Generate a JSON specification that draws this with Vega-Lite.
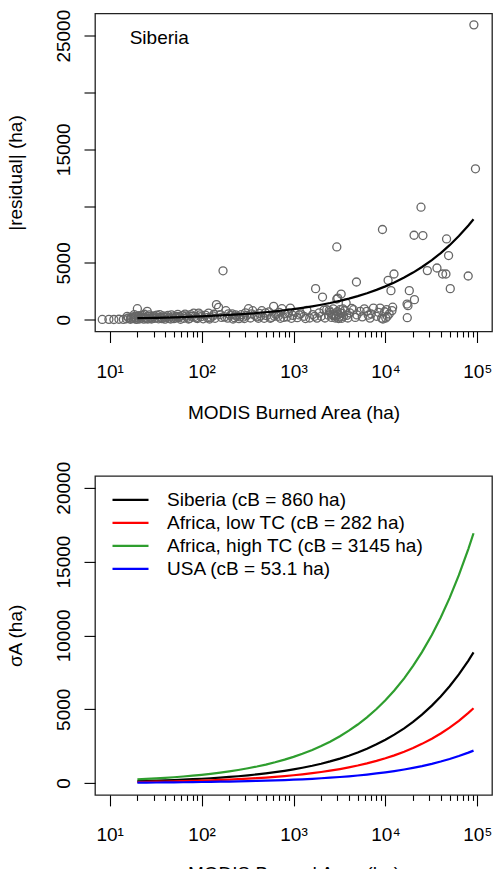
{
  "$schema": "https://vega.github.io/schema/vega-lite/v6.json",
  "padding": {"left": 5, "top": 8.5, "right": 0, "bottom": 0},
  "config": {
    "font": "Liberation Sans",
    "view": {"stroke": "#222222", "strokeWidth": 1.3},
    "axis": {"labelFontSize": 19, "titleFontSize": 19, "titleFontWeight": "normal", "labelColor": "#000000", "titleColor": "#000000", "tickColor": "#000000", "tickWidth": 1.1, "grid": false, "domain": false, "labelFont": "Liberation Sans", "titleFont": "Liberation Sans"},
    "legend": {"labelFont": "Liberation Sans"}
  },
  "datasets": {
    "points": [
      {"area": 8.3, "value": 20}, {"area": 9.8, "value": 30}, {"area": 11.1, "value": 15}, {"area": 12.6, "value": 40}, {"area": 14.1, "value": 25},
      {"area": 15.2, "value": 80}, {"area": 16.0, "value": 150}, {"area": 16.8, "value": 40}, {"area": 17.5, "value": 220}, {"area": 18.2, "value": 90},
      {"area": 18.8, "value": 300}, {"area": 19.5, "value": 30}, {"area": 20.0, "value": 970}, {"area": 20.4, "value": 160}, {"area": 21.0, "value": 60},
      {"area": 21.6, "value": 250}, {"area": 22.2, "value": 120}, {"area": 22.8, "value": 380}, {"area": 23.5, "value": 50}, {"area": 24.2, "value": 200},
      {"area": 25.0, "value": 100}, {"area": 25.6, "value": 730}, {"area": 26.5, "value": 300}, {"area": 27.5, "value": 150}, {"area": 28.5, "value": 60},
      {"area": 29.5, "value": 260}, {"area": 31, "value": 120}, {"area": 32.5, "value": 400}, {"area": 34, "value": 80}, {"area": 36, "value": 200},
      {"area": 38, "value": 330}, {"area": 40, "value": 50}, {"area": 42, "value": 250}, {"area": 44, "value": 140}, {"area": 47, "value": 420},
      {"area": 50, "value": 90}, {"area": 53, "value": 300}, {"area": 56, "value": 180}, {"area": 59, "value": 40}, {"area": 62, "value": 360},
      {"area": 66, "value": 494}, {"area": 70, "value": 220}, {"area": 74, "value": 110}, {"area": 78, "value": 300}, {"area": 82, "value": 582},
      {"area": 87, "value": 160}, {"area": 93, "value": 582}, {"area": 98, "value": 260}, {"area": 104, "value": 80}, {"area": 110, "value": 400},
      {"area": 119, "value": 582}, {"area": 126, "value": 200}, {"area": 133, "value": 330}, {"area": 140, "value": 120}, {"area": 145, "value": 1323},
      {"area": 153, "value": 1085}, {"area": 160, "value": 450}, {"area": 171, "value": 4300}, {"area": 178, "value": 250}, {"area": 184, "value": 794},
      {"area": 192, "value": 140}, {"area": 205, "value": 380}, {"area": 215, "value": 520}, {"area": 228, "value": 180}, {"area": 240, "value": 300},
      {"area": 255, "value": 90}, {"area": 270, "value": 440}, {"area": 285, "value": 230}, {"area": 300, "value": 600}, {"area": 324, "value": 970},
      {"area": 340, "value": 150}, {"area": 360, "value": 794}, {"area": 380, "value": 380}, {"area": 400, "value": 250}, {"area": 425, "value": 560},
      {"area": 452, "value": 794}, {"area": 480, "value": 120}, {"area": 510, "value": 350}, {"area": 540, "value": 680}, {"area": 575, "value": 200},
      {"area": 608, "value": 1173}, {"area": 640, "value": 450}, {"area": 680, "value": 300}, {"area": 720, "value": 120}, {"area": 748, "value": 970},
      {"area": 800, "value": 520}, {"area": 850, "value": 250}, {"area": 923, "value": 1023}, {"area": 980, "value": 380}, {"area": 1040, "value": 650},
      {"area": 1100, "value": 180}, {"area": 1200, "value": 520}, {"area": 1300, "value": 300}, {"area": 1400, "value": 820}, {"area": 1500, "value": 150},
      {"area": 1620, "value": 450}, {"area": 1740, "value": 2733}, {"area": 1800, "value": 140}, {"area": 1900, "value": 600}, {"area": 2000, "value": 300},
      {"area": 2070, "value": 1993}, {"area": 2150, "value": 850}, {"area": 2300, "value": 880}, {"area": 2400, "value": 400}, {"area": 2500, "value": 650},
      {"area": 2600, "value": 200}, {"area": 2700, "value": 950}, {"area": 2750, "value": 350}, {"area": 2800, "value": 500}, {"area": 2850, "value": 150},
      {"area": 2900, "value": 320}, {"area": 2960, "value": 6402}, {"area": 2960, "value": 1817}, {"area": 3000, "value": 700}, {"area": 3030, "value": 1905},
      {"area": 3050, "value": 450}, {"area": 3100, "value": 100}, {"area": 3150, "value": 250}, {"area": 3200, "value": 880}, {"area": 3250, "value": 600},
      {"area": 3300, "value": 2258}, {"area": 3350, "value": 120}, {"area": 3400, "value": 550}, {"area": 3500, "value": 300}, {"area": 3600, "value": 800},
      {"area": 3740, "value": 1464}, {"area": 3900, "value": 150}, {"area": 4100, "value": 600}, {"area": 4300, "value": 1000}, {"area": 4500, "value": 882},
      {"area": 4840, "value": 3316}, {"area": 4900, "value": 420}, {"area": 5310, "value": 732}, {"area": 5600, "value": 250}, {"area": 5900, "value": 950},
      {"area": 6270, "value": 732}, {"area": 6800, "value": 140}, {"area": 7000, "value": 500}, {"area": 7410, "value": 1023}, {"area": 8000, "value": 300},
      {"area": 8750, "value": 1023}, {"area": 9100, "value": 140}, {"area": 9290, "value": 7936}, {"area": 9400, "value": 60}, {"area": 9800, "value": 700},
      {"area": 10300, "value": 882}, {"area": 10500, "value": 300}, {"area": 10700, "value": 3466}, {"area": 11000, "value": 500}, {"area": 11500, "value": 2557},
      {"area": 11800, "value": 800}, {"area": 12000, "value": 1100}, {"area": 12400, "value": 4021}, {"area": 17200, "value": 1375}, {"area": 17600, "value": 1235},
      {"area": 17300, "value": 176}, {"area": 18200, "value": 2557}, {"area": 20500, "value": 7433}, {"area": 20700, "value": 1764}, {"area": 24400, "value": 9903},
      {"area": 25600, "value": 7407}, {"area": 28600, "value": 4321}, {"area": 36400, "value": 4550}, {"area": 41900, "value": 4021}, {"area": 45600, "value": 4021},
      {"area": 46300, "value": 7107}, {"area": 48700, "value": 5643}, {"area": 50800, "value": 2733}, {"area": 79600, "value": 3845}, {"area": 91800, "value": 25950},
      {"area": 95500, "value": 13280},
      {"area": 15.5, "value": 300}, {"area": 17, "value": 120}, {"area": 18.5, "value": 450}, {"area": 19, "value": 180}, {"area": 20.8, "value": 350},
      {"area": 22.5, "value": 230}, {"area": 23.8, "value": 480}, {"area": 26, "value": 60}, {"area": 27, "value": 420}, {"area": 29, "value": 140},
      {"area": 30.5, "value": 330}, {"area": 33, "value": 220}, {"area": 35, "value": 450}, {"area": 37, "value": 90}, {"area": 39, "value": 200},
      {"area": 43, "value": 380}, {"area": 46, "value": 60}, {"area": 48, "value": 240}, {"area": 52, "value": 160}, {"area": 55, "value": 470},
      {"area": 58, "value": 280}, {"area": 64, "value": 120}, {"area": 68, "value": 340}, {"area": 72, "value": 60}, {"area": 76, "value": 450},
      {"area": 85, "value": 300}, {"area": 90, "value": 100}, {"area": 96, "value": 420}, {"area": 115, "value": 180}, {"area": 122, "value": 60},
      {"area": 136, "value": 480}, {"area": 165, "value": 200}, {"area": 196, "value": 520}, {"area": 220, "value": 60}, {"area": 235, "value": 420},
      {"area": 262, "value": 250}, {"area": 292, "value": 100}, {"area": 310, "value": 380}, {"area": 350, "value": 520}, {"area": 415, "value": 120},
      {"area": 440, "value": 320}, {"area": 495, "value": 600}, {"area": 560, "value": 120}, {"area": 620, "value": 300}, {"area": 700, "value": 650},
      {"area": 780, "value": 200}, {"area": 880, "value": 600}, {"area": 950, "value": 120}, {"area": 1150, "value": 420}, {"area": 1350, "value": 100},
      {"area": 1700, "value": 300}, {"area": 2200, "value": 150}, {"area": 2450, "value": 800}, {"area": 2650, "value": 450}, {"area": 3450, "value": 950},
      {"area": 3800, "value": 380}, {"area": 4700, "value": 200}, {"area": 6500, "value": 400}, {"area": 8400, "value": 650}, {"area": 10100, "value": 150}
    ],
    "fit": [
      {"area": 20, "value": 131.15}, {"area": 25, "value": 146.63}, {"area": 32, "value": 165.89}, {"area": 40, "value": 185.47}, {"area": 50, "value": 207.37},
      {"area": 63, "value": 232.77}, {"area": 80, "value": 262.30}, {"area": 100, "value": 293.26}, {"area": 125, "value": 327.87}, {"area": 160, "value": 370.95},
      {"area": 200, "value": 414.73}, {"area": 250, "value": 463.68}, {"area": 320, "value": 524.59}, {"area": 400, "value": 586.52}, {"area": 500, "value": 655.74},
      {"area": 630, "value": 736.07}, {"area": 800, "value": 829.46}, {"area": 1000, "value": 927.36}, {"area": 1250, "value": 1036.82}, {"area": 1600, "value": 1173.03},
      {"area": 2000, "value": 1311.49}, {"area": 2500, "value": 1466.29}, {"area": 3200, "value": 1658.92}, {"area": 4000, "value": 1854.73}, {"area": 5000, "value": 2073.65},
      {"area": 6300, "value": 2327.66}, {"area": 8000, "value": 2622.98}, {"area": 10000, "value": 2932.58}, {"area": 12500, "value": 3278.72}, {"area": 16000, "value": 3709.45},
      {"area": 20000, "value": 4147.30}, {"area": 25000, "value": 4636.82}, {"area": 32000, "value": 5245.96}, {"area": 40000, "value": 5865.16}, {"area": 50000, "value": 6557.45},
      {"area": 63000, "value": 7360.72}, {"area": 80000, "value": 8294.59}, {"area": 91000, "value": 8846.47}
    ],
    "curves": [
      {"region": "Siberia (cB = 860 ha)", "area": 20, "value": 131.15}, {"region": "Siberia (cB = 860 ha)", "area": 25, "value": 146.63}, {"region": "Siberia (cB = 860 ha)", "area": 32, "value": 165.89}, {"region": "Siberia (cB = 860 ha)", "area": 40, "value": 185.47}, {"region": "Siberia (cB = 860 ha)", "area": 50, "value": 207.37},
      {"region": "Siberia (cB = 860 ha)", "area": 63, "value": 232.77}, {"region": "Siberia (cB = 860 ha)", "area": 80, "value": 262.30}, {"region": "Siberia (cB = 860 ha)", "area": 100, "value": 293.26}, {"region": "Siberia (cB = 860 ha)", "area": 125, "value": 327.87}, {"region": "Siberia (cB = 860 ha)", "area": 160, "value": 370.95},
      {"region": "Siberia (cB = 860 ha)", "area": 200, "value": 414.73}, {"region": "Siberia (cB = 860 ha)", "area": 250, "value": 463.68}, {"region": "Siberia (cB = 860 ha)", "area": 320, "value": 524.59}, {"region": "Siberia (cB = 860 ha)", "area": 400, "value": 586.52}, {"region": "Siberia (cB = 860 ha)", "area": 500, "value": 655.74},
      {"region": "Siberia (cB = 860 ha)", "area": 630, "value": 736.07}, {"region": "Siberia (cB = 860 ha)", "area": 800, "value": 829.46}, {"region": "Siberia (cB = 860 ha)", "area": 1000, "value": 927.36}, {"region": "Siberia (cB = 860 ha)", "area": 1250, "value": 1036.82}, {"region": "Siberia (cB = 860 ha)", "area": 1600, "value": 1173.03},
      {"region": "Siberia (cB = 860 ha)", "area": 2000, "value": 1311.49}, {"region": "Siberia (cB = 860 ha)", "area": 2500, "value": 1466.29}, {"region": "Siberia (cB = 860 ha)", "area": 3200, "value": 1658.92}, {"region": "Siberia (cB = 860 ha)", "area": 4000, "value": 1854.73}, {"region": "Siberia (cB = 860 ha)", "area": 5000, "value": 2073.65},
      {"region": "Siberia (cB = 860 ha)", "area": 6300, "value": 2327.66}, {"region": "Siberia (cB = 860 ha)", "area": 8000, "value": 2622.98}, {"region": "Siberia (cB = 860 ha)", "area": 10000, "value": 2932.58}, {"region": "Siberia (cB = 860 ha)", "area": 12500, "value": 3278.72}, {"region": "Siberia (cB = 860 ha)", "area": 16000, "value": 3709.45},
      {"region": "Siberia (cB = 860 ha)", "area": 20000, "value": 4147.30}, {"region": "Siberia (cB = 860 ha)", "area": 25000, "value": 4636.82}, {"region": "Siberia (cB = 860 ha)", "area": 32000, "value": 5245.96}, {"region": "Siberia (cB = 860 ha)", "area": 40000, "value": 5865.16}, {"region": "Siberia (cB = 860 ha)", "area": 50000, "value": 6557.45},
      {"region": "Siberia (cB = 860 ha)", "area": 63000, "value": 7360.72}, {"region": "Siberia (cB = 860 ha)", "area": 80000, "value": 8294.59}, {"region": "Siberia (cB = 860 ha)", "area": 91000, "value": 8846.47},
      {"region": "Africa, low TC (cB = 282 ha)", "area": 20, "value": 75.10}, {"region": "Africa, low TC (cB = 282 ha)", "area": 25, "value": 83.96}, {"region": "Africa, low TC (cB = 282 ha)", "area": 32, "value": 94.99}, {"region": "Africa, low TC (cB = 282 ha)", "area": 40, "value": 106.21}, {"region": "Africa, low TC (cB = 282 ha)", "area": 50, "value": 118.74},
      {"region": "Africa, low TC (cB = 282 ha)", "area": 63, "value": 133.29}, {"region": "Africa, low TC (cB = 282 ha)", "area": 80, "value": 150.20}, {"region": "Africa, low TC (cB = 282 ha)", "area": 100, "value": 167.93}, {"region": "Africa, low TC (cB = 282 ha)", "area": 125, "value": 187.75}, {"region": "Africa, low TC (cB = 282 ha)", "area": 160, "value": 212.42},
      {"region": "Africa, low TC (cB = 282 ha)", "area": 200, "value": 237.49}, {"region": "Africa, low TC (cB = 282 ha)", "area": 250, "value": 265.52}, {"region": "Africa, low TC (cB = 282 ha)", "area": 320, "value": 300.40}, {"region": "Africa, low TC (cB = 282 ha)", "area": 400, "value": 335.86}, {"region": "Africa, low TC (cB = 282 ha)", "area": 500, "value": 375.50},
      {"region": "Africa, low TC (cB = 282 ha)", "area": 630, "value": 421.50}, {"region": "Africa, low TC (cB = 282 ha)", "area": 800, "value": 474.98}, {"region": "Africa, low TC (cB = 282 ha)", "area": 1000, "value": 531.04}, {"region": "Africa, low TC (cB = 282 ha)", "area": 1250, "value": 593.72}, {"region": "Africa, low TC (cB = 282 ha)", "area": 1600, "value": 671.72},
      {"region": "Africa, low TC (cB = 282 ha)", "area": 2000, "value": 751.00}, {"region": "Africa, low TC (cB = 282 ha)", "area": 2500, "value": 839.65}, {"region": "Africa, low TC (cB = 282 ha)", "area": 3200, "value": 949.95}, {"region": "Africa, low TC (cB = 282 ha)", "area": 4000, "value": 1062.08}, {"region": "Africa, low TC (cB = 282 ha)", "area": 5000, "value": 1187.44},
      {"region": "Africa, low TC (cB = 282 ha)", "area": 6300, "value": 1332.90}, {"region": "Africa, low TC (cB = 282 ha)", "area": 8000, "value": 1502.00}, {"region": "Africa, low TC (cB = 282 ha)", "area": 10000, "value": 1679.29}, {"region": "Africa, low TC (cB = 282 ha)", "area": 12500, "value": 1877.50}, {"region": "Africa, low TC (cB = 282 ha)", "area": 16000, "value": 2124.15},
      {"region": "Africa, low TC (cB = 282 ha)", "area": 20000, "value": 2374.88}, {"region": "Africa, low TC (cB = 282 ha)", "area": 25000, "value": 2655.21}, {"region": "Africa, low TC (cB = 282 ha)", "area": 32000, "value": 3004.00}, {"region": "Africa, low TC (cB = 282 ha)", "area": 40000, "value": 3358.58}, {"region": "Africa, low TC (cB = 282 ha)", "area": 50000, "value": 3754.98},
      {"region": "Africa, low TC (cB = 282 ha)", "area": 63000, "value": 4215.03}, {"region": "Africa, low TC (cB = 282 ha)", "area": 80000, "value": 4749.76}, {"region": "Africa, low TC (cB = 282 ha)", "area": 91000, "value": 5065.78},
      {"region": "Africa, high TC (cB = 3145 ha)", "area": 20, "value": 250.80}, {"region": "Africa, high TC (cB = 3145 ha)", "area": 25, "value": 280.40}, {"region": "Africa, high TC (cB = 3145 ha)", "area": 32, "value": 317.24}, {"region": "Africa, high TC (cB = 3145 ha)", "area": 40, "value": 354.69}, {"region": "Africa, high TC (cB = 3145 ha)", "area": 50, "value": 396.55},
      {"region": "Africa, high TC (cB = 3145 ha)", "area": 63, "value": 445.13}, {"region": "Africa, high TC (cB = 3145 ha)", "area": 80, "value": 501.60}, {"region": "Africa, high TC (cB = 3145 ha)", "area": 100, "value": 560.80}, {"region": "Africa, high TC (cB = 3145 ha)", "area": 125, "value": 626.99}, {"region": "Africa, high TC (cB = 3145 ha)", "area": 160, "value": 709.37},
      {"region": "Africa, high TC (cB = 3145 ha)", "area": 200, "value": 793.09}, {"region": "Africa, high TC (cB = 3145 ha)", "area": 250, "value": 886.71}, {"region": "Africa, high TC (cB = 3145 ha)", "area": 320, "value": 1003.19}, {"region": "Africa, high TC (cB = 3145 ha)", "area": 400, "value": 1121.61}, {"region": "Africa, high TC (cB = 3145 ha)", "area": 500, "value": 1253.99},
      {"region": "Africa, high TC (cB = 3145 ha)", "area": 630, "value": 1407.60}, {"region": "Africa, high TC (cB = 3145 ha)", "area": 800, "value": 1586.19}, {"region": "Africa, high TC (cB = 3145 ha)", "area": 1000, "value": 1773.42}, {"region": "Africa, high TC (cB = 3145 ha)", "area": 1250, "value": 1982.73}, {"region": "Africa, high TC (cB = 3145 ha)", "area": 1600, "value": 2243.21},
      {"region": "Africa, high TC (cB = 3145 ha)", "area": 2000, "value": 2507.98}, {"region": "Africa, high TC (cB = 3145 ha)", "area": 2500, "value": 2804.02}, {"region": "Africa, high TC (cB = 3145 ha)", "area": 3200, "value": 3172.38}, {"region": "Africa, high TC (cB = 3145 ha)", "area": 4000, "value": 3546.83}, {"region": "Africa, high TC (cB = 3145 ha)", "area": 5000, "value": 3965.48},
      {"region": "Africa, high TC (cB = 3145 ha)", "area": 6300, "value": 4451.23}, {"region": "Africa, high TC (cB = 3145 ha)", "area": 8000, "value": 5016.03}, {"region": "Africa, high TC (cB = 3145 ha)", "area": 10000, "value": 5608.03}, {"region": "Africa, high TC (cB = 3145 ha)", "area": 12500, "value": 6269.97}, {"region": "Africa, high TC (cB = 3145 ha)", "area": 16000, "value": 7093.66},
      {"region": "Africa, high TC (cB = 3145 ha)", "area": 20000, "value": 7930.95}, {"region": "Africa, high TC (cB = 3145 ha)", "area": 25000, "value": 8867.07}, {"region": "Africa, high TC (cB = 3145 ha)", "area": 32000, "value": 10031.94}, {"region": "Africa, high TC (cB = 3145 ha)", "area": 40000, "value": 11216.06}, {"region": "Africa, high TC (cB = 3145 ha)", "area": 50000, "value": 12539.94},
      {"region": "Africa, high TC (cB = 3145 ha)", "area": 63000, "value": 14076.04}, {"region": "Africa, high TC (cB = 3145 ha)", "area": 80000, "value": 15861.90}, {"region": "Africa, high TC (cB = 3145 ha)", "area": 91000, "value": 16917.30},
      {"region": "USA (cB = 53.1 ha)", "area": 20, "value": 32.59}, {"region": "USA (cB = 53.1 ha)", "area": 25, "value": 36.44}, {"region": "USA (cB = 53.1 ha)", "area": 32, "value": 41.22}, {"region": "USA (cB = 53.1 ha)", "area": 40, "value": 46.09}, {"region": "USA (cB = 53.1 ha)", "area": 50, "value": 51.53},
      {"region": "USA (cB = 53.1 ha)", "area": 63, "value": 57.84}, {"region": "USA (cB = 53.1 ha)", "area": 80, "value": 65.18}, {"region": "USA (cB = 53.1 ha)", "area": 100, "value": 72.87}, {"region": "USA (cB = 53.1 ha)", "area": 125, "value": 81.47}, {"region": "USA (cB = 53.1 ha)", "area": 160, "value": 92.17},
      {"region": "USA (cB = 53.1 ha)", "area": 200, "value": 103.05}, {"region": "USA (cB = 53.1 ha)", "area": 250, "value": 115.22}, {"region": "USA (cB = 53.1 ha)", "area": 320, "value": 130.35}, {"region": "USA (cB = 53.1 ha)", "area": 400, "value": 145.74}, {"region": "USA (cB = 53.1 ha)", "area": 500, "value": 162.94},
      {"region": "USA (cB = 53.1 ha)", "area": 630, "value": 182.90}, {"region": "USA (cB = 53.1 ha)", "area": 800, "value": 206.11}, {"region": "USA (cB = 53.1 ha)", "area": 1000, "value": 230.44}, {"region": "USA (cB = 53.1 ha)", "area": 1250, "value": 257.63}, {"region": "USA (cB = 53.1 ha)", "area": 1600, "value": 291.48},
      {"region": "USA (cB = 53.1 ha)", "area": 2000, "value": 325.88}, {"region": "USA (cB = 53.1 ha)", "area": 2500, "value": 364.35}, {"region": "USA (cB = 53.1 ha)", "area": 3200, "value": 412.21}, {"region": "USA (cB = 53.1 ha)", "area": 4000, "value": 460.87}, {"region": "USA (cB = 53.1 ha)", "area": 5000, "value": 515.27},
      {"region": "USA (cB = 53.1 ha)", "area": 6300, "value": 578.39}, {"region": "USA (cB = 53.1 ha)", "area": 8000, "value": 651.77}, {"region": "USA (cB = 53.1 ha)", "area": 10000, "value": 728.70}, {"region": "USA (cB = 53.1 ha)", "area": 12500, "value": 814.71}, {"region": "USA (cB = 53.1 ha)", "area": 16000, "value": 921.74},
      {"region": "USA (cB = 53.1 ha)", "area": 20000, "value": 1030.54}, {"region": "USA (cB = 53.1 ha)", "area": 25000, "value": 1152.18}, {"region": "USA (cB = 53.1 ha)", "area": 32000, "value": 1303.54}, {"region": "USA (cB = 53.1 ha)", "area": 40000, "value": 1457.40}, {"region": "USA (cB = 53.1 ha)", "area": 50000, "value": 1629.42},
      {"region": "USA (cB = 53.1 ha)", "area": 63000, "value": 1829.06}, {"region": "USA (cB = 53.1 ha)", "area": 80000, "value": 2061.08}, {"region": "USA (cB = 53.1 ha)", "area": 91000, "value": 2198.23}
    ]
  },
  "resolve": {"scale": {"x": "independent", "y": "independent", "color": "independent"}},
  "spacing": 36.4,
  "vconcat": [
    {
      "width": 397,
      "height": 318,
      "layer": [
        {
          "data": {"name": "points"},
          "mark": {"type": "point", "shape": "circle", "filled": false, "stroke": "#666666", "strokeWidth": 1.3, "size": 64, "opacity": 1},
          "encoding": {
            "x": {
              "field": "area", "type": "quantitative",
              "scale": {"type": "log", "domain": [6.918, 144544], "nice": false},
              "axis": {
                "title": "MODIS Burned Area (ha)",
                "values": [10,20,30,40,50,60,70,80,90,100,200,300,400,500,600,700,800,900,1000,2000,3000,4000,5000,6000,7000,8000,9000,10000,20000,30000,40000,50000,60000,70000,80000,90000,100000],
                "labelExpr": "datum.value == 10 ? '10¹' : datum.value == 100 ? '10²' : datum.value == 1000 ? '10³' : datum.value == 10000 ? '10⁴' : datum.value == 100000 ? '10⁵' : ''",
                "tickSize": {"condition": {"test": "indexof([10,100,1000,10000,100000], datum.value) >= 0", "value": 11}, "value": 5.5},
                "labelBaseline": "alphabetic",
                "labelPadding": 35,
                "labelOverlap": false,
                "labelFlush": false,
                "labelBound": false,
                "titleBaseline": "alphabetic",
                "titlePadding": 37
              }
            },
            "y": {
              "field": "value", "type": "quantitative",
              "scale": {"domain": [-1040, 26950], "nice": false, "zero": false},
              "axis": {
                "title": "|residual| (ha)",
                "values": [0, 5000, 10000, 15000, 20000, 25000],
                "format": "d",
                "labelExpr": "datum.value == 10000 || datum.value == 20000 ? '' : datum.label",
                "labelAngle": -90,
                "labelAlign": "center",
                "labelBaseline": "alphabetic",
                "labelPadding": 14.5,
                "tickSize": 11,
                "labelOverlap": false,
                "titleBaseline": "alphabetic",
                "titlePadding": 33
              }
            }
          }
        },
        {
          "data": {"name": "fit"},
          "mark": {"type": "line", "color": "#000000", "strokeWidth": 2.2},
          "encoding": {
            "x": {"field": "area", "type": "quantitative"},
            "y": {"field": "value", "type": "quantitative"}
          }
        },
        {
          "data": {"values": [{}]},
          "mark": {"type": "text", "text": "Siberia", "align": "left", "baseline": "alphabetic", "fontSize": 19, "font": "Liberation Sans", "color": "#000000"},
          "encoding": {
            "x": {"datum": 16.5},
            "y": {"datum": 24250}
          }
        }
      ]
    },
    {
      "width": 397,
      "height": 319,
      "data": {"name": "curves"},
      "mark": {"type": "line", "strokeWidth": 2.2},
      "encoding": {
        "x": {
          "field": "area", "type": "quantitative",
          "scale": {"type": "log", "domain": [6.918, 144544], "nice": false},
          "axis": {
            "title": "MODIS Burned Area (ha)",
            "values": [10,20,30,40,50,60,70,80,90,100,200,300,400,500,600,700,800,900,1000,2000,3000,4000,5000,6000,7000,8000,9000,10000,20000,30000,40000,50000,60000,70000,80000,90000,100000],
            "labelExpr": "datum.value == 10 ? '10¹' : datum.value == 100 ? '10²' : datum.value == 1000 ? '10³' : datum.value == 10000 ? '10⁴' : datum.value == 100000 ? '10⁵' : ''",
            "tickSize": {"condition": {"test": "indexof([10,100,1000,10000,100000], datum.value) >= 0", "value": 11}, "value": 5.5},
            "labelBaseline": "alphabetic",
            "labelPadding": 35,
            "labelOverlap": false,
            "labelFlush": false,
            "labelBound": false,
            "titleBaseline": "alphabetic",
            "titlePadding": 35
          }
        },
        "y": {
          "field": "value", "type": "quantitative",
          "scale": {"domain": [-800, 20800], "nice": false, "zero": false},
          "axis": {
            "title": "σA (ha)",
            "values": [0, 5000, 10000, 15000, 20000],
            "format": "d",
            "labelAngle": -90,
            "labelAlign": "center",
            "labelBaseline": "alphabetic",
            "labelPadding": 14.5,
            "tickSize": 11,
            "labelOverlap": false,
            "titleBaseline": "alphabetic",
            "titlePadding": 33
          }
        },
        "color": {
          "field": "region", "type": "nominal",
          "scale": {
            "domain": ["Siberia (cB = 860 ha)", "Africa, low TC (cB = 282 ha)", "Africa, high TC (cB = 3145 ha)", "USA (cB = 53.1 ha)"],
            "range": ["#000000", "#FF0000", "#2E9E2E", "#0000FF"]
          },
          "legend": {
            "orient": "none",
            "legendX": 16,
            "legendY": 12.6,
            "title": null,
            "padding": 0,
            "symbolType": "stroke",
            "symbolSize": 1296,
            "symbolStrokeWidth": 2.2,
            "clipHeight": 22.8,
            "rowPadding": 0,
            "labelFontSize": 19,
            "labelOffset": 17,
            "labelLimit": 400,
            "labelColor": "#000000"
          }
        }
      }
    }
  ]
}
